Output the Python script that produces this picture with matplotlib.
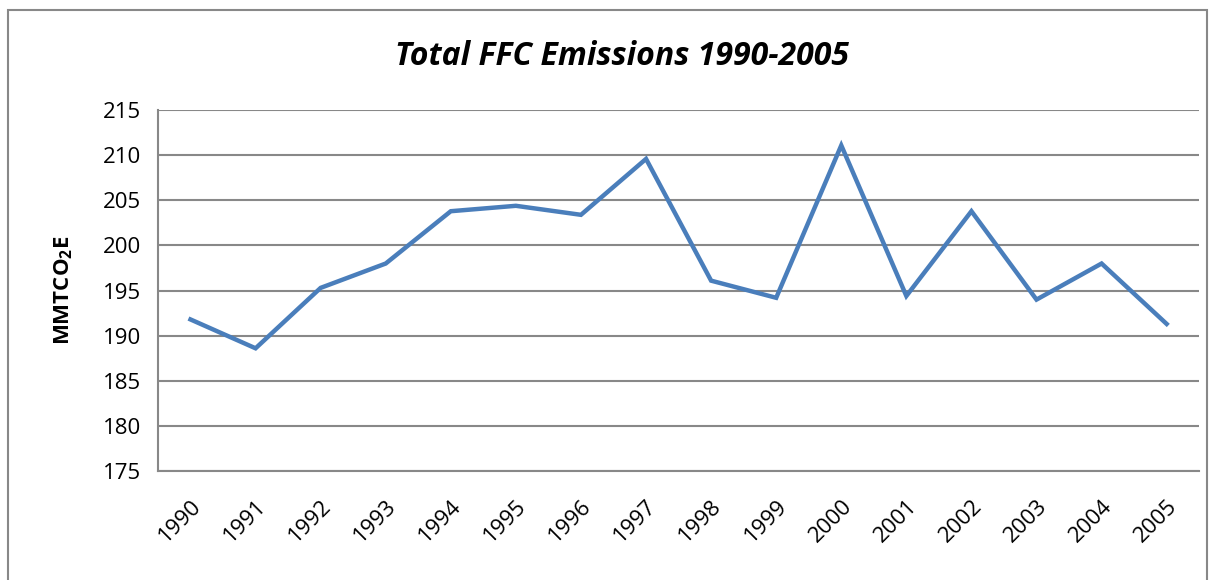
import matplotlib.pyplot as plt
from matplotlib.patches import Rectangle

# Data
years = ['1990', '1991', '1992', '1993', '1994', '1995', '1996', '1997',
         '1998', '1999', '2000', '2001', '2002', '2003', '2004', '2005']
emissions = [191.8, 188.6, 195.3, 198.0, 203.8, 204.4, 203.4, 209.6,
             196.1, 194.2, 211.1, 194.4, 203.8, 194.0, 198.0, 191.3]
yticks = [175, 180, 185, 190, 195, 200, 205, 210, 215]

plt.rcParams['font.family'] = ['Open Sans', 'DejaVu Sans']
plt.rcParams['mathtext.fontset'] = 'custom'
plt.rcParams['mathtext.bf'] = 'Open Sans:bold'
plt.rcParams['mathtext.rm'] = 'Open Sans'

fig = plt.figure(figsize=(12.15, 5.8), dpi=100)
ax = fig.add_axes([0.130, 0.188, 0.857, 0.622])

# outer chart border
fig.patches.append(Rectangle((8 / 1215, -0.05), 1199 / 1215, 1 - 10 / 580 + 0.05,
                             transform=fig.transFigure, fill=False,
                             edgecolor='#888888', linewidth=1.5))

x = list(range(len(years)))
ax.plot(x, emissions, color='#4a7ebb', linewidth=3.2, solid_joinstyle='miter', zorder=3)

ax.set_xlim(-0.5, len(years) - 0.5)
ax.set_ylim(175, 215)
ax.set_yticks(yticks)
ax.set_xticks(x)
ax.set_xticklabels(years, rotation=45, ha='right', va='top', rotation_mode='anchor')
ax.tick_params(axis='both', length=0, labelsize=16)
ax.tick_params(axis='x', pad=18)
ax.tick_params(axis='y', pad=12)

ax.grid(axis='y', color='#888888', linewidth=1.5)
ax.set_axisbelow(True)
for side in ['top', 'right']:
    ax.spines[side].set_visible(False)
for side in ['left', 'bottom']:
    ax.spines[side].set_color('#888888')
    ax.spines[side].set_linewidth(1.5)

ax.set_ylabel(r'MMTCO$_\mathbf{2}$E', fontsize=16, fontweight='bold', labelpad=20)
fig.text(0.512, 0.902, 'Total FFC Emissions 1990-2005', ha='center', va='center',
         fontsize=23, fontweight='bold', fontstyle='italic')

fig.savefig('out.png', dpi=100)
